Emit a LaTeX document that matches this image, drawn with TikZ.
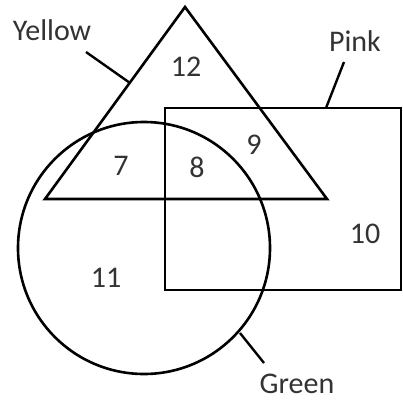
\documentclass[tikz,border=0pt]{standalone}
\usepackage{fontspec}
\setmainfont{Carlito}
\begin{document}
\begin{tikzpicture}[x=1pt,y=-1pt,
  shape line/.style={line width=2.6pt, line join=miter},
  leader/.style={line width=2.4pt},
  lbl/.style={anchor=base, inner sep=0pt, font=\fontsize{30}{36}\selectfont, text=black!80}]
\fill[white] (0,0) rectangle (403,401);
\useasboundingbox (0,0) rectangle (403,401);
\begin{scope}
\clip (0,0) rectangle (403,401);
% Pink rectangle
\draw[shape line] (165,108) rectangle (401,290);
% Green circle
\draw[shape line] (144,248) circle (126);
% Yellow triangle
\draw[shape line] (185,7) -- (327,199) -- (45,199) -- cycle;
\end{scope}
% labels
\node[lbl] (yellow) at (52,41) {Yellow};
\node[lbl] (pink) at (355,52) {Pink};
\node[lbl] (green) at (297,393) {Green};
\node[lbl] (n12) at (186,77) {12};
\node[lbl] (n9) at (254,154) {9};
\node[lbl] (n7) at (121,175) {7};
\node[lbl] (n8) at (197,177) {8};
\node[lbl] (n10) at (365,243) {10};
\node[lbl] (n11) at (106,287) {11};
% leader lines
\coordinate (ys) at (86,52);
\coordinate (ye) at (130,83);
\coordinate (ps) at (344,62);
\coordinate (pe) at (326,108);
\coordinate (gs) at (264,363);
\coordinate (ge) at (240,333);
\draw[leader] (ys) -- (ye);
\draw[leader] (ps) -- (pe);
\draw[leader] (gs) -- (ge);
\end{tikzpicture}
\end{document}
